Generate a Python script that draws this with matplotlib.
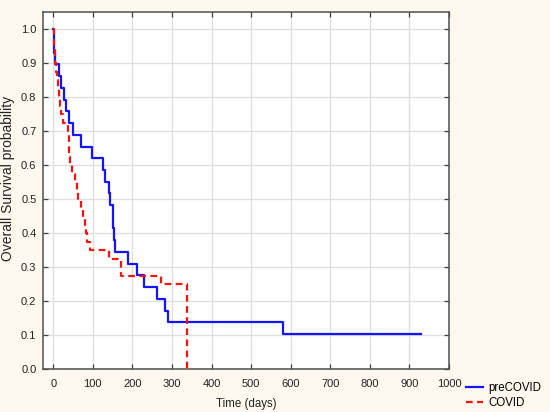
import matplotlib
matplotlib.use("Agg")
import matplotlib.pyplot as plt

# preCOVID group (Kaplan-Meier steps)
pre_days = [0, 2, 3, 4, 15, 20, 27, 33, 40, 50, 71, 97, 127, 131, 142, 144,
            151, 152, 153, 157, 190, 211, 230, 262, 282, 290, 580, 928]
pre_surv = [1.0, 0.966, 0.931, 0.897, 0.862, 0.828, 0.793, 0.759, 0.724, 0.690,
            0.655, 0.621, 0.586, 0.552, 0.517, 0.483, 0.448, 0.414, 0.379, 0.345,
            0.310, 0.276, 0.241, 0.207, 0.172, 0.138, 0.103, 0.103]

# COVID group
cov_days = [0, 1, 2, 4, 5, 7, 9, 11, 14, 16, 19, 24, 38, 39, 40, 41, 43, 48,
            54, 59, 63, 70, 76, 80, 83, 85, 92, 140, 170, 171, 273, 337]
cov_surv = [1.0, 0.975, 0.95, 0.925, 0.9, 0.875, 0.85, 0.825, 0.8, 0.775, 0.75,
            0.725, 0.7, 0.675, 0.65, 0.625, 0.6, 0.575, 0.55, 0.525, 0.5, 0.475,
            0.45, 0.425, 0.4, 0.375, 0.35, 0.325, 0.3, 0.275, 0.25, 0.0]

x_ticks = [0, 100, 200, 300, 400, 500, 600, 700, 800, 900, 1000]
y_ticks = [0.0, 0.1, 0.2, 0.3, 0.4, 0.5, 0.6, 0.7, 0.8, 0.9, 1.0]

plt.rcParams["font.family"] = ["Liberation Sans", "DejaVu Sans"]
plt.rcParams["font.size"] = 8

bg = "#fdf9ee"
fig = plt.figure(figsize=(5.5, 4.12), dpi=100, facecolor=bg)
ax = fig.add_axes([0.0788, 0.1044, 0.7376, 0.8672])
ax.set_facecolor("white")

ax.step(pre_days, pre_surv, where="post", color="#1414ff", lw=1.6, label="preCOVID", zorder=3)
ax.step(cov_days, cov_surv, where="post", color="#ff1010", lw=1.6,
        linestyle=(0, (3, 2)), label="COVID", zorder=3)

ax.set_xlim(-25, 1000)
ax.set_ylim(0, 1.052)
ax.set_xticks(x_ticks)
ax.set_yticks(y_ticks)
ax.set_yticklabels([f"{v:.1f}" for v in y_ticks])
ax.grid(True, color="#dedede", lw=0.9, zorder=0)
ax.set_axisbelow(True)

ax.tick_params(direction="in", length=3.5, width=0.9, colors="#404040",
               labelcolor="#222222", top=True, right=True)
ax.tick_params(axis="x", pad=7)
ax.tick_params(axis="y", pad=5)
for s in ax.spines.values():
    s.set_color("#505050")
    s.set_linewidth(1.1)

ax.set_xlabel("Time (days)", color="#222222", labelpad=7, fontsize=8.3)
# y label sits a bit above the axes centre in the original
fig.text(8.5 / 550, 1 - 178 / 412, "Overall Survival probability", rotation=90,
         ha="center", va="center", color="#222222", fontsize=10)

fig.legend(loc="upper left", bbox_to_anchor=(0.848, 0.073), frameon=False,
           borderpad=0, borderaxespad=0, handlelength=1.4, handletextpad=0.5,
           labelspacing=0.3, fontsize=8.3)

fig.savefig("out.png", dpi=100, facecolor=bg)
